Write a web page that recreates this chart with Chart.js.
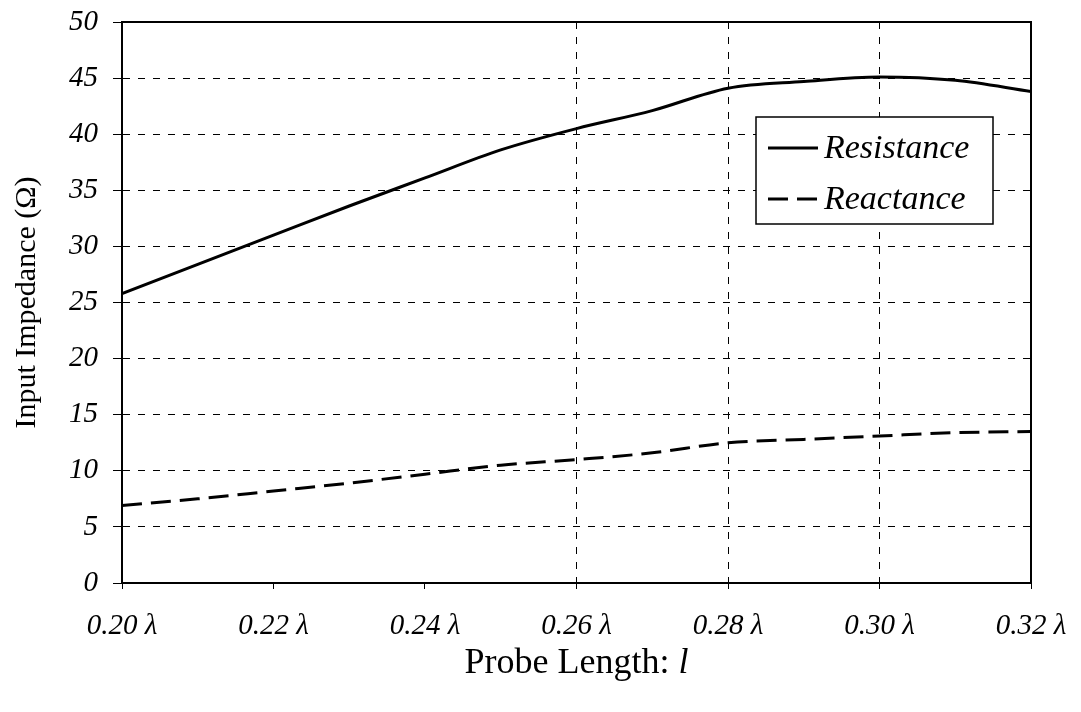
<!DOCTYPE html>
<html>
<head>
<meta charset="utf-8">
<script src="https://cdn.jsdelivr.net/npm/chart.js@4/dist/chart.umd.min.js"></script>
<style>
  html, body { margin: 0; padding: 0; background: #fff; }
  #wrap { width: 1081px; height: 712px; }
</style>
</head>
<body>
<div id="wrap"><canvas id="c" width="1081" height="712"></canvas></div>
<script>
// ---- data ----
const probeLength = [0.20, 0.21, 0.22, 0.23, 0.24, 0.25, 0.26, 0.27, 0.28, 0.29, 0.30, 0.31, 0.32];
const resistance  = [25.8, 28.4, 31.0, 33.6, 36.1, 38.6, 40.5, 42.1, 44.1, 44.7, 45.1, 44.8, 43.8];
const reactance   = [6.9, 7.5, 8.2, 8.9, 9.7, 10.5, 11.0, 11.6, 12.5, 12.8, 13.1, 13.4, 13.5];
const xTickValues = [0.20, 0.22, 0.24, 0.26, 0.28, 0.30, 0.32];
const yTickValues = [0, 5, 10, 15, 20, 25, 30, 35, 40, 45, 50];
const seriesNames = ['Resistance', 'Reactance'];
const xTitle = 'Probe Length: ';
const xTitleVar = 'l';
const yTitle = 'Input Impedance (\u03A9)';
const visibleXGrid = [0.26, 0.28, 0.30];

const FONT = '"Liberation Serif", "Times New Roman", serif';

const toPts = (xs, ys) => xs.map((x, i) => ({ x: x, y: ys[i] }));

const framePlugin = {
  id: 'frame',
  afterDraw(chart) {
    const { ctx, chartArea: a } = chart;
    ctx.save();
    ctx.strokeStyle = '#000';
    ctx.lineWidth = 2;
    ctx.beginPath();
    ctx.moveTo(a.left, a.top);
    ctx.lineTo(a.right, a.top);
    ctx.lineTo(a.right, a.bottom);
    ctx.stroke();

    // legend box
    const bx = a.left + (756 - 122), by = a.top + (117 - 22), bw = 237, bh = 107;
    ctx.fillStyle = '#fff';
    ctx.fillRect(bx, by, bw, bh);
    ctx.lineWidth = 1.5;
    ctx.strokeRect(bx, by, bw, bh);
    const ds = chart.data.datasets;
    const rows = [by + 31, by + 82];
    ds.forEach((d, i) => {
      ctx.save();
      ctx.strokeStyle = d.borderColor;
      ctx.lineWidth = d.borderWidth;
      ctx.setLineDash(d.borderDash || []);
      ctx.beginPath();
      ctx.moveTo(bx + 12, rows[i]);
      ctx.lineTo(bx + 62, rows[i]);
      ctx.stroke();
      ctx.restore();
      ctx.fillStyle = '#000';
      ctx.font = 'italic 34px ' + FONT;
      ctx.textBaseline = 'middle';
      ctx.textAlign = 'left';
      ctx.fillText(d.label, bx + 68, rows[i] + 1);
    });

    // x axis title with italic variable
    ctx.font = '36px ' + FONT;
    const w1 = ctx.measureText(xTitle).width;
    ctx.font = 'italic 36px ' + FONT;
    const w2 = ctx.measureText(xTitleVar).width;
    const cx = (a.left + a.right) / 2;
    const sx = cx - (w1 + w2) / 2;
    const baseY = a.bottom + 90;
    ctx.textBaseline = 'alphabetic';
    ctx.textAlign = 'left';
    ctx.font = '36px ' + FONT;
    ctx.fillText(xTitle, sx, baseY);
    ctx.font = 'italic 36px ' + FONT;
    ctx.fillText(xTitleVar, sx + w1, baseY);
    ctx.restore();
  }
};

function zeroPad(scale) {
  scale.paddingTop = 0;
  scale.paddingBottom = 0;
  scale.paddingLeft = 0;
  scale.paddingRight = 0;
}

new Chart(document.getElementById('c'), {
  type: 'line',
  data: {
    datasets: [
      {
        label: seriesNames[0],
        data: toPts(probeLength, resistance),
        borderColor: '#000',
        borderWidth: 3,
        pointRadius: 0,
        fill: false,
        cubicInterpolationMode: 'monotone'
      },
      {
        label: seriesNames[1],
        data: toPts(probeLength, reactance),
        borderColor: '#000',
        borderWidth: 3,
        borderDash: [20, 9],
        pointRadius: 0,
        fill: false,
        cubicInterpolationMode: 'monotone'
      }
    ]
  },
  options: {
    responsive: false,
    animation: false,
    devicePixelRatio: 1,
    layout: { padding: { top: 22, right: 50, left: 0, bottom: 0 } },
    plugins: { legend: { display: false }, tooltip: { enabled: false } },
    scales: {
      x: {
        type: 'linear',
        min: 0.20,
        max: 0.32,
        afterBuildTicks(scale) { scale.ticks = xTickValues.map(v => ({ value: v })); },
        afterFit(scale) { scale.height = 129; zeroPad(scale); },
        ticks: {
          color: '#000',
          font: { family: FONT, size: 29, style: 'italic' },
          padding: 20,
          maxRotation: 0,
          autoSkip: false,
          callback: (v) => Number(v).toFixed(2) + ' \u03BB'
        },
        grid: {
          color: (c) => {
            const v = c.tick ? c.tick.value : null;
            return (v !== null && visibleXGrid.some(g => Math.abs(g - v) < 1e-6)) ? '#000' : 'rgba(0,0,0,0)';
          },
          lineWidth: 1,
          drawTicks: true,
          tickLength: 6,
          tickColor: '#000',
          tickBorderDash: []
        },
        border: { display: true, color: '#000', width: 2, dash: [7, 8] }
      },
      y: {
        type: 'linear',
        min: 0,
        max: 50,
        afterBuildTicks(scale) { scale.ticks = yTickValues.map(v => ({ value: v })); },
        afterFit(scale) { scale.width = 122; zeroPad(scale); },
        ticks: {
          color: '#000',
          font: { family: FONT, size: 29, style: 'italic' },
          padding: 15,
          autoSkip: false
        },
        title: {
          display: true,
          text: yTitle,
          color: '#000',
          font: { family: FONT, size: 30 },
          padding: { top: 9, bottom: 0 }
        },
        grid: {
          color: '#000',
          lineWidth: 1,
          drawTicks: true,
          tickLength: 9,
          tickColor: '#000',
          tickBorderDash: []
        },
        border: { display: true, color: '#000', width: 2, dash: [7, 8] }
      }
    }
  },
  plugins: [framePlugin]
});
</script>
</body>
</html>
